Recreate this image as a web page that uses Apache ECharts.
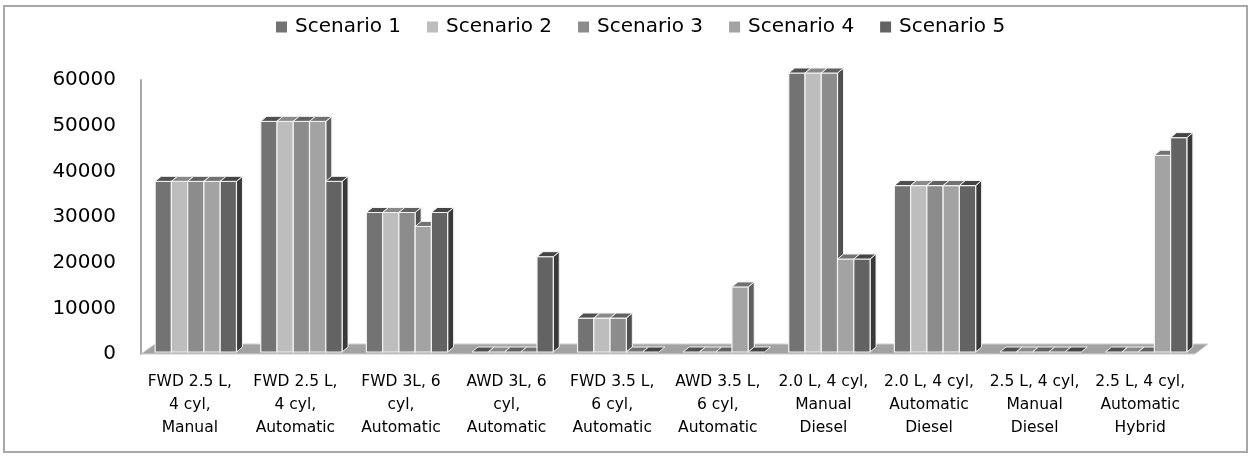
<!DOCTYPE html>
<html>
<head>
<meta charset="utf-8">
<style>
  html, body { margin: 0; padding: 0; background: #ffffff; }
  #chart { width: 1252px; height: 457px; }
</style>
<script src="https://cdn.jsdelivr.net/npm/echarts@6/dist/echarts.min.js"></script>
</head>
<body>
<div id="chart"></div>
<script>
// Vehicle configurations along the x axis
const categories = [
  'FWD 2.5 L,\n4 cyl,\nManual',
  'FWD 2.5 L,\n4 cyl,\nAutomatic',
  'FWD 3L, 6\ncyl,\nAutomatic',
  'AWD 3L, 6\ncyl,\nAutomatic',
  'FWD 3.5 L,\n6 cyl,\nAutomatic',
  'AWD 3.5 L,\n6 cyl,\nAutomatic',
  '2.0 L, 4 cyl,\nManual\nDiesel',
  '2.0 L, 4 cyl,\nAutomatic\nDiesel',
  '2.5 L, 4 cyl,\nManual\nDiesel',
  '2.5 L, 4 cyl,\nAutomatic\nHybrid'
];

const seriesNames = ['Scenario 1', 'Scenario 2', 'Scenario 3', 'Scenario 4', 'Scenario 5'];

const scenario1 = [36700, 49600, 30000, 0, 7300, 0, 60000, 35800, 0, 0];
const scenario2 = [36700, 49600, 30000, 0, 7300, 0, 60000, 35800, 0, 0];
const scenario3 = [36700, 49600, 30000, 0, 7300, 0, 60000, 35800, 0, 0];
const scenario4 = [36700, 49600, 27000, 0, 0, 14000, 20000, 35800, 0, 42300];
const scenario5 = [36700, 36700, 30000, 20500, 0, 0, 20000, 35800, 0, 46100];

// Value axis range and tick step
const yMin = 0;
const yMax = 60000;
const yStep = 10000;

const scenarios = [scenario1, scenario2, scenario3, scenario4, scenario5];

// Face colours for each scenario: front, top cap, right side
const palette = [
  { front: '#737373', cap: '#505050', side: '#454545' },
  { front: '#bdbdbd', cap: '#8a8a8a', side: '#6f6f6f' },
  { front: '#8c8c8c', cap: '#626262', side: '#515151' },
  { front: '#a3a3a3', cap: '#727272', side: '#5e5e5e' },
  { front: '#636363', cap: '#454545', side: '#3a3a3a' }
];

const FONT = '"DejaVu Sans", "Liberation Sans", sans-serif';
const GROUP_RATIO = 0.77;   // share of a category band taken by the bar cluster
const SHIFT = 6;            // front faces sit slightly right of the band centre
const DEPTH_X = 6;          // pseudo-3D depth of the bars
const DEPTH_Y = -5;
const EDGE = '#f4f4f4';

function makeBarRenderer(slot) {
  return function (params, api) {
    const cat = api.value(0);
    const val = api.value(1);
    const base = api.coord([cat, 0]);
    const top = api.coord([cat, val]);
    const band = api.size([1, 0])[0];
    const groupW = band * GROUP_RATIO;
    const bw = groupW / 5;
    const x = base[0] + SHIFT - groupW / 2 + slot * bw;
    const y0 = base[1];
    const y1 = top[1];
    const c = palette[slot];
    const children = [];
    if (y0 - y1 > 0.5) {
      children.push({
        type: 'polygon',
        shape: { points: [[x + bw, y1], [x + bw + DEPTH_X, y1 + DEPTH_Y], [x + bw + DEPTH_X, y0 + DEPTH_Y], [x + bw, y0]] },
        style: { fill: c.side, stroke: EDGE, lineWidth: 1 }
      });
      children.push({
        type: 'rect',
        shape: { x: x, y: y1, width: bw, height: y0 - y1 },
        style: { fill: c.front, stroke: EDGE, lineWidth: 1.2 }
      });
    }
    children.push({
      type: 'polygon',
      shape: { points: [[x, y1], [x + DEPTH_X, y1 + DEPTH_Y], [x + bw + DEPTH_X, y1 + DEPTH_Y], [x + bw, y1]] },
      style: { fill: c.cap, stroke: EDGE, lineWidth: 1 }
    });
    return { type: 'group', children: children };
  };
}

// Grey floor slab under the clusters
function renderFloor(params, api) {
  const cs = params.coordSys;
  const L = cs.x, R = cs.x + cs.width, B = cs.y + cs.height;
  return {
    type: 'polygon',
    shape: { points: [[L + 4, B + 2], [R + 2, B + 2], [R + 15, B - 8], [L + 18, B - 8]] },
    style: { fill: '#a2a2a2', stroke: '#d0d0d0', lineWidth: 1 },
    z2: -10
  };
}

const barSeries = scenarios.map(function (values, i) {
  return {
    name: seriesNames[i],
    type: 'custom',
    xAxisIndex: 1,
    yAxisIndex: 1,
    z: 2,
    itemStyle: { color: palette[i].front },
    renderItem: makeBarRenderer(i),
    data: values.map(function (v, k) { return [k, v]; }),
    silent: true
  };
});

const chart = echarts.init(document.getElementById('chart'));
chart.setOption({
  animation: false,
  backgroundColor: '#ffffff',
  graphic: [{
    type: 'rect',
    shape: { x: 4, y: 6, width: 1243, height: 446 },
    style: { fill: 'none', stroke: '#a8a8a8', lineWidth: 2 },
    z: -1
  }],
  legend: {
    data: seriesNames,
    left: 271,
    top: 12,
    icon: 'rect',
    itemWidth: 11,
    itemHeight: 11,
    itemGap: 26,
    textStyle: { fontFamily: FONT, fontSize: 20, color: '#000000', padding: [0, 0, 0, 3] }
  },
  grid: [
    // wall and value labels
    { left: 141, right: 59, top: 80, bottom: 103, containLabel: false },
    // bar clusters
    { left: 137, right: 59, top: 73, bottom: 105, containLabel: false }
  ],
  xAxis: [
    { type: 'category', gridIndex: 0, data: categories, show: false },
    {
      type: 'category', gridIndex: 1, data: categories,
      axisLine: { show: false }, axisTick: { show: false },
      axisLabel: {
        interval: 0, margin: 18, fontFamily: FONT, fontSize: 15.5,
        lineHeight: 23, color: '#000000', align: 'center'
      }
    }
  ],
  yAxis: [
    {
      type: 'value', gridIndex: 0, min: yMin, max: yMax, interval: yStep,
      axisLine: { show: true, lineStyle: { color: '#a8a8a8', width: 2 } },
      axisTick: { show: false },
      splitLine: { show: false },
      axisLabel: {
        margin: 25, fontFamily: FONT, fontSize: 20, color: '#000000',
        formatter: function (v) { return String(v); }
      }
    },
    {
      type: 'value', gridIndex: 1, min: yMin, max: yMax, interval: yStep, show: false
    }
  ],
  series: [{
    type: 'custom',
    name: 'floor',
    xAxisIndex: 1,
    yAxisIndex: 1,
    renderItem: renderFloor,
    data: [[0, 0]],
    silent: true,
    z: 1
  }].concat(barSeries)
});
</script>
</body>
</html>
